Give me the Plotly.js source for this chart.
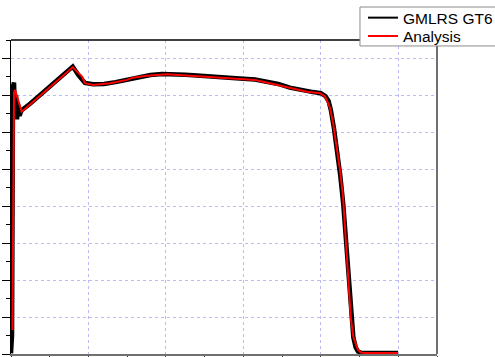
<!DOCTYPE html>
<html>
<head>
<meta charset="utf-8">
<script src="https://cdn.plot.ly/plotly-3.0.1.min.js"></script>
<style>html,body{margin:0;padding:0;background:#fff;}#chart{width:495px;height:357px;}</style>
</head>
<body>
<div id="chart"></div>
<script>
// Series names
const seriesNames = ["GMLRS GT6", "Analysis"];

// Measured test data (GMLRS GT6)
const testX = [0.0, 0.013, 0.026, 0.039, 0.052, 0.065, 0.078, 0.09, 0.11, 0.138,
  0.25, 0.4, 0.55, 0.7, 0.797, 0.87, 0.955, 1.06, 1.2, 1.35,
  1.5, 1.65, 1.8, 1.95, 2.1, 2.25, 2.4, 2.55, 2.7, 2.85,
  3.0, 3.15, 3.3, 3.45, 3.6, 3.75, 3.9, 4.0, 4.06, 4.1,
  4.13, 4.17, 4.21, 4.25, 4.29, 4.33, 4.36, 4.39, 4.42, 4.45,
  4.48, 4.52, 4.6, 4.8, 4.997];
const testY = [0.02, 0.5, 7.25, 7.35, 6.4, 7.0, 6.35, 6.75, 6.45, 6.6,
  6.78, 7.05, 7.33, 7.60, 7.78, 7.55, 7.34, 7.30, 7.31, 7.36,
  7.43, 7.50, 7.55, 7.58, 7.58, 7.56, 7.54, 7.51, 7.49, 7.47,
  7.45, 7.43, 7.38, 7.31, 7.21, 7.14, 7.09, 7.06, 6.98, 6.85,
  6.60, 6.10, 5.55, 4.85, 4.05, 2.85, 1.95, 1.05, 0.45, 0.18,
  0.07, 0.03, 0.03, 0.03, 0.03];

// Analysis curve
const anaX = [0.019, 0.039, 0.052, 0.138, 0.797, 0.917, 0.955, 1.059, 1.278, 1.498,
  1.575, 1.756, 2.014, 2.376, 2.634, 2.853, 3.15, 3.254, 3.434, 3.602,
  3.822, 3.99, 4.054, 4.093, 4.119, 4.158, 4.209, 4.248, 4.287, 4.326,
  4.355, 4.386, 4.42, 4.455, 4.48, 4.519, 4.571, 4.997];
const anaY = [0.65, 7.09, 7.15, 6.56, 7.76, 7.51, 7.33, 7.28, 7.33, 7.42,
  7.48, 7.53, 7.57, 7.52, 7.48, 7.46, 7.42, 7.37, 7.28, 7.19,
  7.10, 7.06, 6.97, 6.79, 6.66, 6.25, 5.60, 4.98, 4.25, 3.00,
  2.00, 1.00, 0.46, 0.22, 0.11, 0.04, 0.03, 0.03];

const gridColor = "#bcbcf4";
const legendFont = {family: "Liberation Sans, Arial, sans-serif", size: 15.5, color: "#000"};

const traces = [
  // thick noisy-band test trace (legend shown via thin key entry below)
  {x: testX, y: testY, name: seriesNames[0], type: "scatter", mode: "lines",
   line: {color: "#000000", width: 4.5}, showlegend: false, legendgroup: "t"},
  {x: [null], y: [null], name: seriesNames[0], type: "scatter", mode: "lines",
   line: {color: "#000000", width: 2}, legend: "legend", legendgroup: "t"},
  {x: anaX, y: anaY, name: seriesNames[1], type: "scatter", mode: "lines",
   line: {color: "#ff0000", width: 2}, legend: "legend2"}
];

const layout = {
  width: 495, height: 357,
  margin: {l: 11, r: 58, t: 40, b: 3, pad: 0, autoexpand: false},
  paper_bgcolor: "#ffffff", plot_bgcolor: "#ffffff",
  font: {family: "Liberation Sans, Arial, sans-serif", size: 14, color: "#000"},
  showlegend: true,
  legend: {x: 0.7333, y: 0.997, xref: "container", yref: "container",
    xanchor: "left", yanchor: "top",
    bgcolor: "rgba(0,0,0,0)", borderwidth: 0, font: legendFont},
  legend2: {x: 0.7333, y: 0.9454, xref: "container", yref: "container",
    xanchor: "left", yanchor: "top",
    bgcolor: "rgba(0,0,0,0)", borderwidth: 0, font: legendFont},
  xaxis: {range: [0, 5.5], dtick: 1, tick0: 0, showticklabels: false,
    ticks: "outside", ticklen: 8, tickcolor: "#333", tickwidth: 1,
    showgrid: true, gridcolor: gridColor, griddash: "dot", gridwidth: 1,
    zeroline: false, showline: true, linecolor: "#707070", linewidth: 2,
    minor: {dtick: 0.5, tick0: 0, ticks: "outside", ticklen: 8, tickcolor: "#333", showgrid: false}},
  yaxis: {range: [0, 8.5], dtick: 1, tick0: 0, showticklabels: false,
    ticks: "outside", ticklen: 8, tickcolor: "#000", tickwidth: 1,
    showgrid: true, gridcolor: gridColor, griddash: "dot", gridwidth: 1,
    zeroline: false, showline: true, linecolor: "#000", linewidth: 1.5,
    minor: {dtick: 0.5, tick0: 0, ticks: "outside", ticklen: 4, tickcolor: "#000", showgrid: false}},
  shapes: [
    {type: "line", xref: "paper", yref: "paper", x0: 0, x1: 1, y0: 1, y1: 1,
     line: {color: "#000", width: 1.5}, layer: "above"},
    {type: "line", xref: "paper", yref: "paper", x0: 1, x1: 1, y0: 0, y1: 1,
     line: {color: "#707070", width: 2}, layer: "above"},
    // legend frame
    {type: "rect", xref: "paper", yref: "paper", x0: 0.8192, x1: 1.15, y0: 0.981, y1: 1.105,
     line: {color: "#8c8c8c", width: 1}, fillcolor: "#ffffff", layer: "above"}
  ]
};

Plotly.newPlot("chart", traces, layout, {displayModeBar: false, staticPlot: true});
</script>
</body>
</html>
